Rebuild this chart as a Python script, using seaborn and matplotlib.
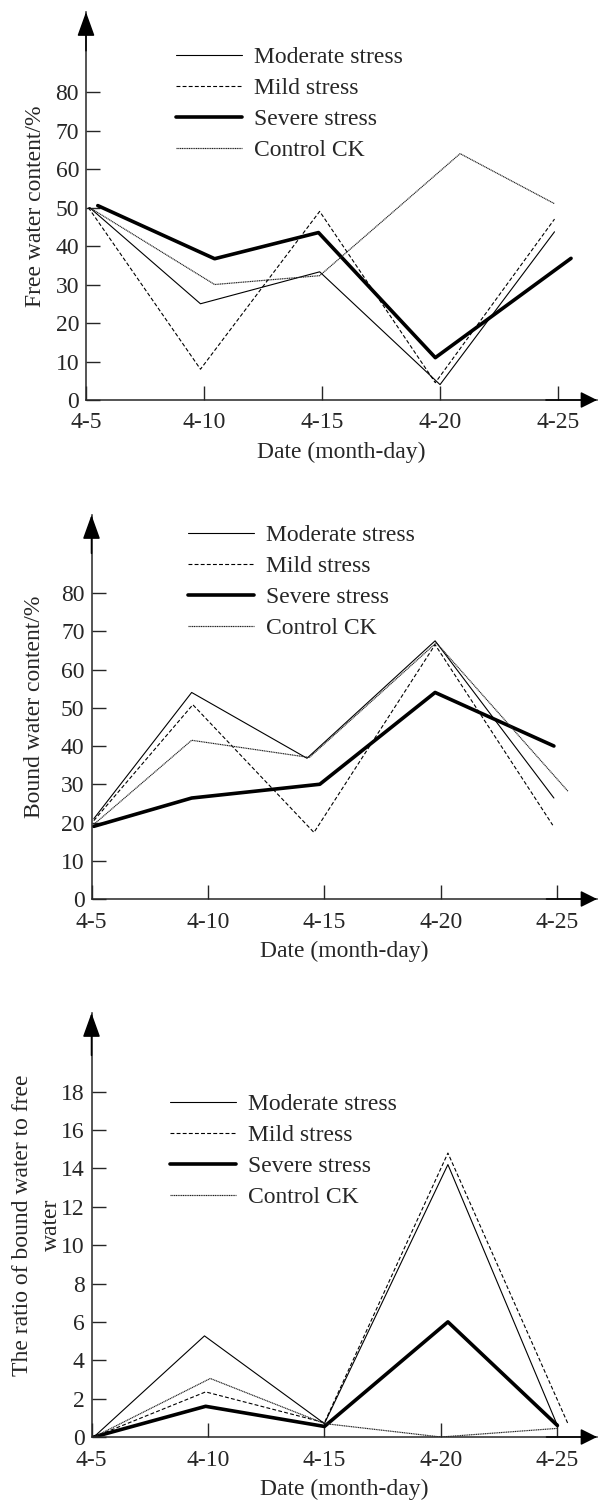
"""
Free water, bound water and their ratio under drought stress (three stacked panels).
"""

import pandas as pd
import matplotlib
matplotlib.use("Agg")
import matplotlib.pyplot as plt
import seaborn as sns

# Date ticks (index positions 0..4)
dates = ["4-5", "4-10", "4-15", "4-20", "4-25"]
series_names = ["Moderate stress", "Mild stress", "Severe stress", "Control CK"]

# Panel 1: free water content (%) - x is date index as drawn
free_x = {
    "Moderate stress": [0.03, 0.97, 1.98, 3.0, 3.97],
    "Mild stress": [0.02, 0.97, 1.98, 2.96, 3.97],
    "Severe stress": [0.1, 1.09, 1.97, 2.96, 4.11],
    "Control CK": [0.03, 1.09, 1.98, 3.17, 3.97],
}
free_y = {
    "Moderate stress": [50, 25, 33.3, 4, 43.7],
    "Mild stress": [50, 8, 49, 4.5, 47],
    "Severe stress": [50.5, 36.7, 43.5, 11, 36.8],
    "Control CK": [50, 30, 32.3, 64, 51],
}

# Panel 2: bound water content (%)
bound_x = {
    "Moderate stress": [0.02, 0.86, 1.85, 2.95, 3.97],
    "Mild stress": [0.02, 0.87, 1.91, 2.95, 3.96],
    "Severe stress": [0.02, 0.86, 1.96, 2.95, 3.97],
    "Control CK": [0.02, 0.86, 1.87, 2.96, 4.09],
}
bound_y = {
    "Moderate stress": [21, 54, 36.8, 67.5, 26.4],
    "Mild stress": [20.5, 50.8, 17.4, 66.5, 19.3],
    "Severe stress": [19, 26.4, 30, 54, 40],
    "Control CK": [19.5, 41.5, 37, 67, 28.2],
}

# Panel 3: ratio bound / free water
ratio_x = {
    "Moderate stress": [0.02, 0.97, 2.0, 3.06, 4.0],
    "Mild stress": [0.02, 0.98, 2.0, 3.06, 4.09],
    "Severe stress": [0.02, 0.98, 2.0, 3.06, 4.0],
    "Control CK": [0.02, 1.02, 2.0, 3.0, 4.0],
}
ratio_y = {
    "Moderate stress": [0, 5.27, 0.7, 14.2, 0.6],
    "Mild stress": [0, 2.35, 0.75, 14.8, 0.7],
    "Severe stress": [0, 1.6, 0.55, 6.0, 0.6],
    "Control CK": [0, 3.05, 0.7, 0.0, 0.45],
}

styles = {
    "Moderate stress": dict(color="black", lw=0.8, ls="-"),
    "Mild stress": dict(color="black", lw=0.8, ls=(0, (3.5, 2))),
    "Severe stress": dict(color="black", lw=2.6, ls="-"),
    "Control CK": dict(color="#222222", lw=0.85, ls=(0, (1, 0.5))),
}

FS = 17


def long_frame(xs, ys):
    rows = []
    for name in series_names:
        for x, y in zip(xs[name], ys[name]):
            rows.append({"series": name, "x": x, "y": y})
    return pd.DataFrame(rows)


def draw_panel(ax, df, yticks, xlim_right, ylim_top, ylabel, ylabel_x, legend_anchor):
    for name in series_names:
        sub = df[df["series"] == name]
        sns.lineplot(data=sub, x="x", y="y", ax=ax, label=name,
                     estimator=None, sort=False, **styles[name])

    ax.set_xlim(0, xlim_right)
    ax.set_ylim(0, ylim_top)
    ax.set_xticks(range(len(dates)))
    ax.set_xticklabels(dates)
    ax.set_yticks(yticks)
    ax.set_yticklabels([str(t) for t in yticks])
    ax.tick_params(direction="in", length=10, width=1, labelsize=FS, pad=5)
    ax.tick_params(axis="x", pad=9)
    ax.set_xlabel("Date (month-day)", fontsize=FS, labelpad=6)
    ax.set_ylabel(ylabel, fontsize=FS, linespacing=1.55)
    ax.yaxis.set_label_coords(ylabel_x, 0.5)
    ax.yaxis.label.set_verticalalignment("center")

    for side in ["top", "right"]:
        ax.spines[side].set_visible(False)
    for side in ["left", "bottom"]:
        ax.spines[side].set_linewidth(1.1)

    # arrow heads at axis ends
    up = dict(arrowstyle="-|>,head_length=0.75,head_width=0.27", color="black",
              lw=1.1, mutation_scale=20, shrinkA=0, shrinkB=0)
    right = dict(arrowstyle="-|>,head_length=0.5,head_width=0.25", color="black",
                 lw=1.1, mutation_scale=20, shrinkA=0, shrinkB=0)
    ax.annotate("", xy=(0, 1.0), xytext=(0, 0.9), xycoords="axes fraction",
                arrowprops=up, annotation_clip=False)
    ax.annotate("", xy=(1.0, 0), xytext=(0.9, 0), xycoords="axes fraction",
                arrowprops=right, annotation_clip=False)

    ax.legend(loc="upper left", bbox_to_anchor=legend_anchor, frameon=False,
              fontsize=FS, handlelength=2.8, handletextpad=0.5,
              labelspacing=0.4, borderpad=0, borderaxespad=0)


def main():
    sns.set_style("ticks")
    plt.rcParams["font.family"] = ["Liberation Serif", "DejaVu Serif"]

    fig = plt.figure(figsize=(5.98, 15.04), dpi=100)
    W, H = 598, 1504

    ax1 = fig.add_axes([86 / W, 1 - 400 / H, (597 - 86) / W, (400 - 12) / H])
    ax2 = fig.add_axes([91.5 / W, 1 - 899 / H, (597 - 91.5) / W, (899 - 515) / H])
    ax3 = fig.add_axes([91.5 / W, 1 - 1437 / H, (597 - 91.5) / W, (1437 - 1013) / H])

    draw_panel(ax1, long_frame(free_x, free_y), list(range(0, 81, 10)), 4.33, 100.8,
               "Free water content/%", -0.098, (0.176, 0.91))
    draw_panel(ax2, long_frame(bound_x, bound_y), list(range(0, 81, 10)), 4.34, 100.4,
               "Bound water content/%", -0.112, (0.191, 0.975))
    draw_panel(ax3, long_frame(ratio_x, ratio_y), list(range(0, 19, 2)), 4.34, 22.1,
               "The ratio of bound water to free\nwater", -0.108, (0.156, 0.81))

    fig.savefig("out.png", dpi=100)


if __name__ == "__main__":
    main()
